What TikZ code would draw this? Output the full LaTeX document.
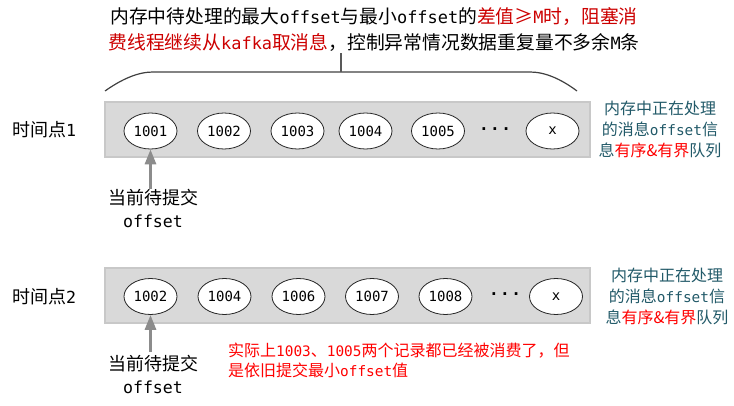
\documentclass[tikz,border=0pt]{standalone}
\usepackage{fontspec}
\setmainfont{Noto Sans CJK SC}
\newfontfamily\mono[Scale=0.9]{DejaVu Sans Mono}
\newfontfamily\numf{DejaVu Sans Mono}
\usetikzlibrary{arrows.meta,shapes.geometric}
\definecolor{dred}{RGB}{204,0,0}
\definecolor{tealtx}{RGB}{33,89,104}
\definecolor{boxfill}{RGB}{217,217,217}
\definecolor{boxline}{RGB}{200,200,200}
\definecolor{arrgray}{RGB}{140,140,140}
\definecolor{bracec}{RGB}{64,64,64}
\newcommand\mm[1]{{\mono #1}}
\newcommand\bigmono[1]{{\numf\fontsize{16.6}{20}\selectfont #1}}
\tikzset{
  queuebox/.style={draw=boxline, fill=boxfill, line width=1.5pt, minimum width=485pt, minimum height=55pt, inner sep=0pt},
  rec/.style={ellipse, draw=black!85, line width=0.8pt, fill=white, minimum width=53pt, minimum height=36pt, inner sep=0pt, font=\numf\fontsize{14}{16}\selectfont},
  dotsn/.style={font=\numf\bfseries\fontsize{16}{16}\selectfont, inner sep=0pt},
  rowlabel/.style={font=\fontsize{18}{22}\selectfont, inner sep=0pt},
  ptrlabel/.style={font=\fontsize{18}{23}\selectfont, align=center, inner sep=0pt},
  sidenote/.style={font=\fontsize{16}{21}\selectfont, align=center, text=tealtx, inner sep=0pt},
  ptrarrow/.style={draw=arrgray, line width=3pt, -{Triangle[length=15pt,width=11pt]}},
  bracel/.style={draw=bracec, line width=1.2pt},
}
\begin{document}
\begin{tikzpicture}[x=1pt,y=-1pt]
\useasboundingbox (0,0) rectangle (734,406);
% top text
\node[font=\fontsize{18.8}{26}\selectfont, align=center, inner sep=0pt] (top) at (374,30)
 {内存中待处理的最大\mm{offset}与最小\mm{offset}的\textcolor{dred}{差值≥\mm{M}时，阻塞消}\\
  \textcolor{dred}{费线程继续从\mm{kafka}取消息}，控制异常情况数据重复量不多余\mm{M}条};
% brace
\coordinate (bl) at (105,91);
\coordinate (br) at (577,91);
\coordinate (bm) at (341,72);
\coordinate (bt) at (341,53);
\draw[bracel] (bl) .. controls (122,79) and (138,72) .. (153,72) -- (530,72) .. controls (545,72) and (561,79) .. (br);
\draw[draw=black!65, line width=1.8pt] (bm) -- (bt);

% row 1
\node[rowlabel] (t1) at (44,130) {时间点\bigmono{1}};
\node[queuebox] (q1) at (347.5,129.5) {};
\node[rec] (a1) at (150.5,131) {1001};
\node[rec] (a2) at (224,131) {1002};
\node[rec] (a3) at (297.5,131) {1003};
\node[rec] (a4) at (365.5,131) {1004};
\node[rec] (a5) at (438,131) {1005};
\node[dotsn] (a6) at (495,129) {.\hspace{1.5pt}.\hspace{1.5pt}.};
\node[rec] (a7) at (552.5,131) {x};
\node[sidenote] (s1) at (660,129) {内存中正在处理\\的消息\mm{offset}信\\息\textcolor{red}{有序\&有界}队列};
\node[ptrlabel] (p1) at (153,208) {当前待提交\\\bigmono{offset}};
\coordinate (p1top) at (150.5,189);
\draw[ptrarrow] (p1top) -- (a1.south);

% row 2
\node[rowlabel] (t2) at (44,297) {时间点\bigmono{2}};
\node[queuebox] (q2) at (347.5,295.5) {};
\node[rec] (b1) at (150.5,296.5) {1002};
\node[rec] (b2) at (224.5,296.5) {1004};
\node[rec] (b3) at (298.5,296.5) {1006};
\node[rec] (b4) at (372,296.5) {1007};
\node[rec] (b5) at (445.5,296.5) {1008};
\node[dotsn] (b6) at (505,294.5) {.\hspace{1.5pt}.\hspace{1.5pt}.};
\node[rec] (b7) at (556,296.5) {x};
\node[sidenote] (s2) at (667,296) {内存中正在处理\\的消息\mm{offset}信\\息\textcolor{red}{有序\&有界}队列};
\node[ptrlabel] (p2) at (153,374) {当前待提交\\\bigmono{offset}};
\coordinate (p2top) at (150.5,352);
\draw[ptrarrow] (p2top) -- (b1.south);

\node[font=\fontsize{16}{20}\selectfont, align=left, text=red, anchor=west, inner sep=0pt] (note) at (228,360)
 {实际上\mm{1003}、\mm{1005}两个记录都已经被消费了，但\\是依旧提交最小\mm{offset}值};
\end{tikzpicture}
\end{document}
